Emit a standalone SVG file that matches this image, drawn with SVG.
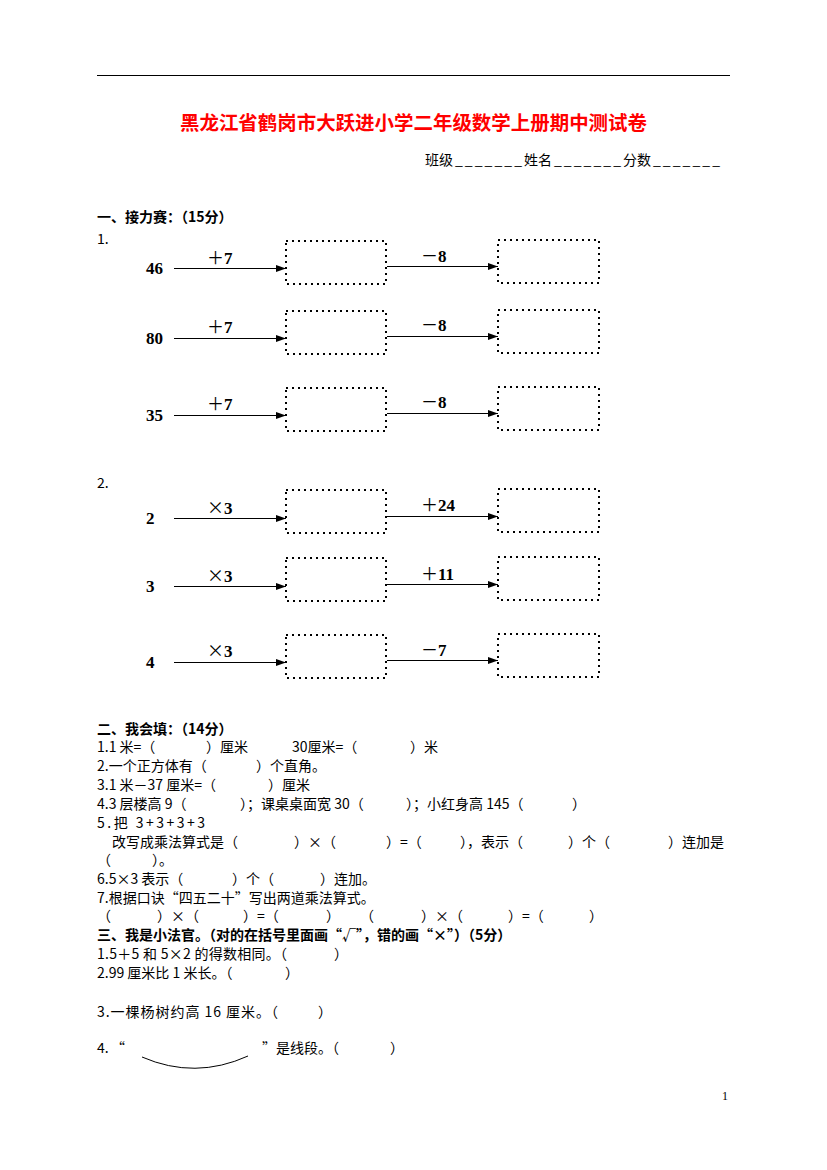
<svg xmlns="http://www.w3.org/2000/svg" width="827" height="1170" viewBox="0 0 827 1170">
<style>
.t{font-family:"Noto Sans CJK SC","Liberation Sans",sans-serif;font-size:14px;fill:#000}
.h{font-family:"Noto Sans CJK SC","Liberation Sans",sans-serif;font-size:14px;font-weight:bold;fill:#000}
.num{font-family:"Liberation Serif","Noto Sans CJK SC",serif;font-size:17px;font-weight:bold;fill:#000}
.op{font-family:"Liberation Serif","Noto Sans CJK SC",serif;font-size:17px;font-weight:bold;fill:#000}
.sym{font-family:"Noto Sans CJK SC",sans-serif;font-weight:normal}
.box{fill:none;stroke:#000;stroke-width:2;stroke-dasharray:2 4}
.arr{stroke:#000;stroke-width:1;fill:none;marker-end:url(#ah)}
</style>
<defs>
<marker id="ah" markerUnits="userSpaceOnUse" markerWidth="10" markerHeight="8" refX="10" refY="3.5" orient="auto">
<path d="M0,0 L10,3.5 L0,7 z" fill="#000"/>
</marker>
</defs>
<rect x="0" y="0" width="827" height="1170" fill="#fff"/>
<line x1="97" y1="75.5" x2="730" y2="75.5" stroke="#000" stroke-width="1"/>
<text x="180" y="130" font-family="'Noto Sans CJK SC',sans-serif" font-size="19.5" font-weight="bold" fill="#ff0000" textLength="467" lengthAdjust="spacingAndGlyphs">黑龙江省鹤岗市大跃进小学二年级数学上册期中测试卷</text>
<g id="class-line">
<text class="t" x="425" y="165">班级</text>
<text class="t" x="455" y="165" textLength="67" lengthAdjust="spacing">_______</text>
<text class="t" x="524" y="165">姓名</text>
<text class="t" x="554" y="165" textLength="67" lengthAdjust="spacing">_______</text>
<text class="t" x="623" y="165">分数</text>
<text class="t" x="653" y="165" textLength="67" lengthAdjust="spacing">_______</text>
</g>
<text class="h" x="97" y="222">一、接力赛：（15分）</text>
<text class="t" x="97" y="244">1.</text>
<text class="t" x="97" y="488">2.</text>

<g id="connectors">
<line class="arr" x1="174" y1="268.5" x2="286" y2="268.5"/>
<line class="arr" x1="387" y1="266.5" x2="498" y2="266.5"/>
<line class="arr" x1="174" y1="338.5" x2="286" y2="338.5"/>
<line class="arr" x1="387" y1="336.5" x2="498" y2="336.5"/>
<line class="arr" x1="174" y1="415.5" x2="286" y2="415.5"/>
<line class="arr" x1="387" y1="413.5" x2="498" y2="413.5"/>
<line class="arr" x1="174" y1="518.5" x2="286" y2="518.5"/>
<line class="arr" x1="387" y1="516.5" x2="498" y2="516.5"/>
<line class="arr" x1="174" y1="586.5" x2="286" y2="586.5"/>
<line class="arr" x1="387" y1="584.5" x2="498" y2="584.5"/>
<line class="arr" x1="174" y1="662.5" x2="286" y2="662.5"/>
<line class="arr" x1="387" y1="660.5" x2="498" y2="660.5"/>
<text class="op" x="207" y="264"><tspan class="sym">＋</tspan>7</text>
<text class="op" x="421" y="262"><tspan class="sym">－</tspan>8</text>
<text class="op" x="207" y="333"><tspan class="sym">＋</tspan>7</text>
<text class="op" x="421" y="331"><tspan class="sym">－</tspan>8</text>
<text class="op" x="207" y="410"><tspan class="sym">＋</tspan>7</text>
<text class="op" x="421" y="408"><tspan class="sym">－</tspan>8</text>
<text class="op" x="207" y="514"><tspan class="sym">×</tspan>3</text>
<text class="op" x="421" y="511"><tspan class="sym">＋</tspan>24</text>
<text class="op" x="207" y="582"><tspan class="sym">×</tspan>3</text>
<text class="op" x="421" y="580"><tspan class="sym">＋</tspan>11</text>
<text class="op" x="207" y="657"><tspan class="sym">×</tspan>3</text>
<text class="op" x="421" y="656"><tspan class="sym">－</tspan>7</text>
</g>

<g id="row1-start"><text class="num" x="146" y="274">46</text></g>
<g id="row1-box1"><rect class="box" x="286" y="241" width="100" height="43"/></g>
<g id="row1-box2"><rect class="box" x="498" y="240" width="101" height="43"/></g>
<g id="row2-start"><text class="num" x="146" y="344">80</text></g>
<g id="row2-box1"><rect class="box" x="286" y="311" width="100" height="43"/></g>
<g id="row2-box2"><rect class="box" x="498" y="310" width="101" height="43"/></g>
<g id="row3-start"><text class="num" x="146" y="421">35</text></g>
<g id="row3-box1"><rect class="box" x="286" y="388" width="100" height="43"/></g>
<g id="row3-box2"><rect class="box" x="498" y="387" width="101" height="43"/></g>
<g id="row4-start"><text class="num" x="146" y="524">2</text></g>
<g id="row4-box1"><rect class="box" x="286" y="490" width="100" height="43"/></g>
<g id="row4-box2"><rect class="box" x="498" y="489" width="101" height="43"/></g>
<g id="row5-start"><text class="num" x="146" y="592">3</text></g>
<g id="row5-box1"><rect class="box" x="286" y="558" width="100" height="43"/></g>
<g id="row5-box2"><rect class="box" x="498" y="557" width="101" height="43"/></g>
<g id="row6-start"><text class="num" x="146" y="668">4</text></g>
<g id="row6-box1"><rect class="box" x="286" y="635" width="100" height="43"/></g>
<g id="row6-box2"><rect class="box" x="498" y="634" width="101" height="43"/></g>

<g id="section2">
<text class="h" x="97" y="734">二、我会填：（14分）</text>
<text class="t" x="97" y="752">1.1 米=（</text><text class="t" x="206" y="752">）厘米</text><text class="t" x="292" y="752">30厘米=（</text><text class="t" x="410" y="752">）米</text>
<text class="t" x="97" y="771">2.一个正方体有（</text><text class="t" x="256" y="771">）个直角。</text>
<text class="t" x="97" y="790">3.1 米－37 厘米=（</text><text class="t" x="268" y="790">）厘米</text>
<text class="t" x="97" y="809">4.3 层楼高 9（</text><text class="t" x="240" y="809">）；课桌桌面宽 30（</text><text class="t" x="406" y="809">）；小红身高 145（</text><text class="t" x="572" y="809">）</text>
<text class="t" x="97" y="828" textLength="108" lengthAdjust="spacing">5.把 3+3+3+3</text>
<text class="t" x="112" y="847">改写成乘法算式是（</text><text class="t" x="294" y="847">）×（</text><text class="t" x="386" y="847">）=（</text><text class="t" x="460" y="847">），表示（</text><text class="t" x="568" y="847">）个（</text><text class="t" x="668" y="847">）连加是</text>
<text class="t" x="97" y="865">（</text><text class="t" x="152" y="865">）。</text>
<text class="t" x="97" y="884">6.5×3 表示（</text><text class="t" x="232" y="884">）个（</text><text class="t" x="320" y="884">）连加。</text>
<text class="t" x="97" y="903">7.根据口诀“四五二十”写出两道乘法算式。</text>
<text class="t" x="97" y="921">（</text><text class="t" x="157" y="921">）×（</text><text class="t" x="243" y="921">）=（</text><text class="t" x="326" y="921">）</text><text class="t" x="360" y="921">（</text><text class="t" x="421" y="921">）×（</text><text class="t" x="508" y="921">）=（</text><text class="t" x="589" y="921">）</text>
</g>

<g id="section3">
<text class="h" x="97" y="940">三、我是小法官。（对的在括号里面画“√”，错的画“×”）（5分）</text>
<text class="t" x="97" y="959" textLength="190" lengthAdjust="spacing">1.5＋5 和 5×2 的得数相同。（</text><text class="t" x="334" y="959">）</text>
<text class="t" x="97" y="978">2.99 厘米比 1 米长。（</text><text class="t" x="285" y="978">）</text>
<text class="t" x="97" y="1017" textLength="181" lengthAdjust="spacing">3.一棵杨树约高 16 厘米。（</text><text class="t" x="318" y="1017">）</text>
<text class="t" x="97" y="1053">4.</text><text class="t" x="111" y="1053">“</text>
<path d="M142,1057 Q195,1080 248,1056" fill="none" stroke="#000" stroke-width="1"/>
<text class="t" x="262" y="1053">”是线段。（</text><text class="t" x="390" y="1053">）</text>
</g>
<text x="722" y="1100" font-family="'Liberation Serif',serif" font-size="12" fill="#000">1</text>
</svg>
